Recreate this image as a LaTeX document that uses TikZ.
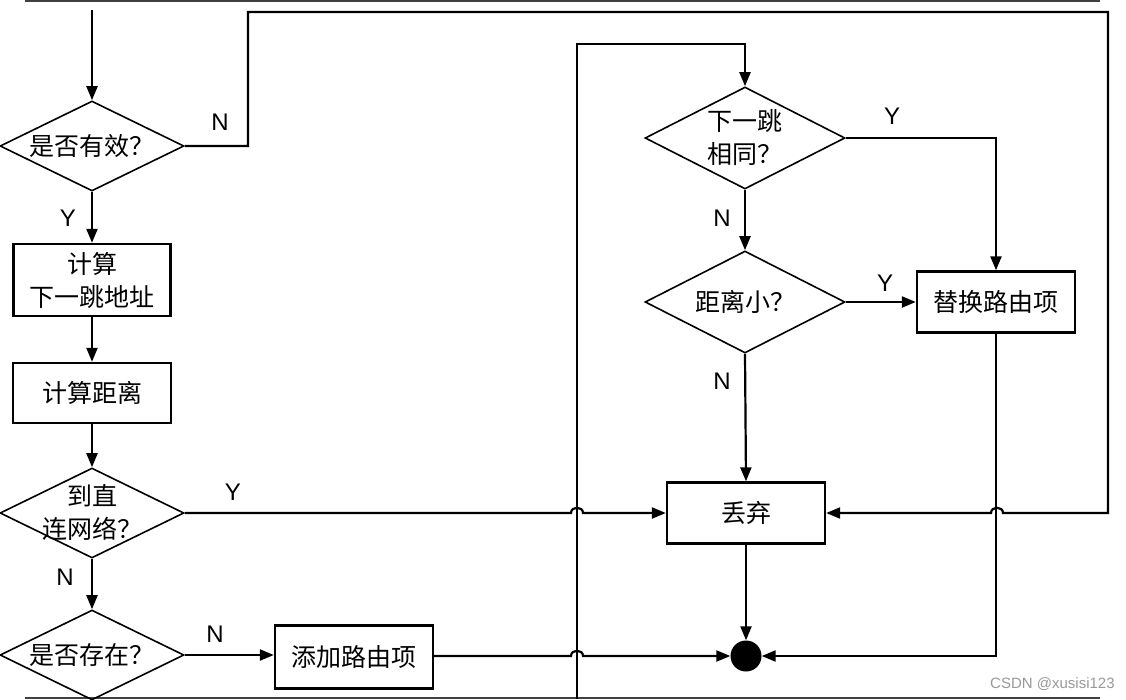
\documentclass[tikz,border=0pt]{standalone}
\usepackage{fontspec}
\setmainfont{Liberation Sans}
\newfontfamily\cjk{Noto Sans CJK SC}
\usetikzlibrary{shapes.geometric,arrows.meta}
\begin{document}
\begin{tikzpicture}[x=1pt,y=-1pt,
  conn/.style={line width=2.2pt},
  arr/.style={conn,-{Triangle[length=14pt,width=11pt]}},
  dec/.style={diamond,draw,line width=1.6pt,inner sep=0pt,minimum width=184pt,minimum height=90pt},
  proc/.style={rectangle,draw,line width=2.4pt,inner sep=0pt,align=center,font=\cjk\fontsize{25}{33}\selectfont},
  txt/.style={align=center,inner sep=0pt,font=\cjk\fontsize{25}{33}\selectfont},
  yn/.style={font=\fontsize{24}{24}\selectfont,inner sep=0pt},
  frame/.style={draw=black!75,line width=1.6pt}
]
\fill[white] (0,0) rectangle (1126,699);
\useasboundingbox (0,0) rectangle (1126,699);

% screenshot edges
\draw[frame] (25,1) -- (1100,1);
\draw[frame] (25,698) -- (1100,698);

% left column
\node[dec] (d1) at (92,146) {};
\node[txt] (t1) at (d1) {是否有效？};
\node[proc,minimum width=157pt,minimum height=72pt] (b1) at (92,280) {计算\\下一跳地址};
\node[proc,minimum width=158pt,minimum height=60pt] (b2) at (92,393) {计算距离};
\node[dec] (d2) at (92,513) {};
\node[txt] (t2) at (d2) {到直\\连网络？};
\node[dec] (d3) at (92,655) {};
\node[txt] (t3) at (d3) {是否存在？};
\node[proc,minimum width=158pt,minimum height=63pt] (b3) at (354,657) {添加路由项};

% right column
\node[dec,minimum width=200pt,minimum height=102pt] (d4) at (745,138) {};
\node[txt] (t4) at (d4) {下一跳\\相同？};
\node[dec,minimum width=200pt,minimum height=102pt] (d5) at (745,302) {};
\node[txt] (t5) at (d5) {距离小？};
\node[proc,minimum width=158pt,minimum height=61pt] (b4) at (996,302) {替换路由项};
\node[proc,minimum width=158pt,minimum height=61pt] (b5) at (746,513) {丢弃};
\node[circle,fill=black,inner sep=0pt,minimum size=31pt] (c) at (746,656) {};

% connectors
\coordinate (s) at (92,10);
\draw[arr] (s) -- (d1.north);
\draw[arr] (d1.south) -- (b1.north);
\draw[arr] (b1.south) -- (b2.north);
\draw[arr] (b2.south) -- (d2.north);
\draw[arr] (d2.south) -- (d3.north);
\draw[arr] (d3.east) -- (b3.west |- d3.east);

% N of d1: loop round the top to the right of 丢弃
\draw[arr] (d1.east) -- (248,146) -- (248,12) -- (1108,12) -- (1108,513)
  -- (1003,513) .. controls (1003,506) and (991,506) .. (991,513) -- (b5.east);

% Y of d2 to 丢弃, hopping the x=577 line
\draw[arr] (d2.east) -- (571,513) .. controls (571,506) and (583,506) .. (583,513) -- (b5.west);

% 添加路由项 to end point, hopping the x=577 line
\draw[arr] (b3.east |- c) -- (571,656) .. controls (571,649) and (583,649) .. (583,656) -- (c.west);

% loop line rising from the bottom into d4
\coordinate (lb) at (577,699);
\draw[arr] (lb) -- (577,44) -| (d4.north);

\draw[arr] (d4.east) -| (b4.north);
\draw[arr] (d4.south) -- (d5.north);
\draw[arr] (d5.east) -- (b4.west);
\draw[arr] (d5.south) -- (b5.north);
\draw[arr] (b5.south) -- (c.north);
\draw[arr] (b4.south) |- (c.east);

% Y / N labels
\node[yn] (l1) at (220,122) {N};
\node[yn] (l2) at (68,218) {Y};
\node[yn] (l3) at (233,492) {Y};
\node[yn] (l4) at (65,577) {N};
\node[yn] (l5) at (215,634) {N};
\node[yn] (l6) at (892,116) {Y};
\node[yn] (l7) at (722,218) {N};
\node[yn] (l8) at (885,283) {Y};
\node[yn] (l9) at (722,381) {N};

% watermark
\node[font=\fontsize{15}{15}\selectfont,text=black!40,inner sep=0pt,anchor=west] (wm) at (990,684) {CSDN @xusisi123};
\end{tikzpicture}
\end{document}
